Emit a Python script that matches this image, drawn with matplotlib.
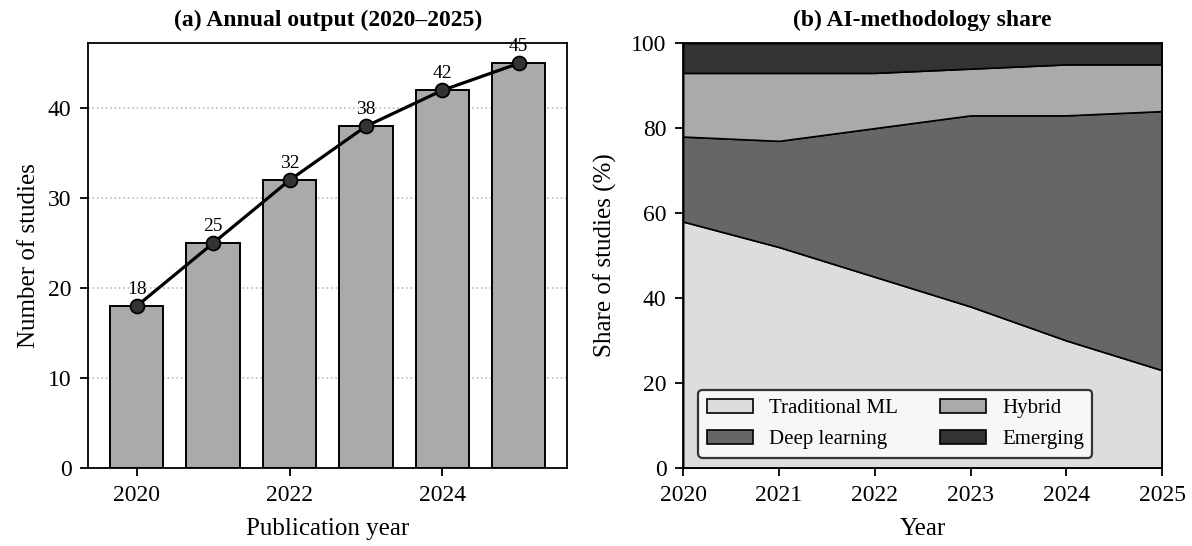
import matplotlib
matplotlib.use('Agg')
import matplotlib.pyplot as plt
import numpy as np

plt.rcParams['font.family'] = ['Liberation Serif', 'DejaVu Serif']

years = [2020, 2021, 2022, 2023, 2024, 2025]
studies = [18, 25, 32, 38, 42, 45]

labels = ['Traditional ML', 'Deep learning', 'Hybrid', 'Emerging']
trad_ml = [58, 52, 45, 38, 30, 23]
deep_learning = [20, 25, 35, 45, 53, 61]
hybrid = [15, 16, 13, 11, 12, 11]
emerging = [7, 7, 7, 6, 5, 5]

fig, (ax1, ax2) = plt.subplots(1, 2, figsize=(11.92, 5.46), dpi=100)
fig.subplots_adjust(left=0.074, right=0.975, top=0.921, bottom=0.143, wspace=0.242)

# (a) bars + line
ax1.bar(years, studies, width=0.7, color='#aaaaaa', edgecolor='black', linewidth=1.4, zorder=2)
ax1.plot(years, studies, color='black', linewidth=2.3, marker='o', markersize=10,
         markerfacecolor='#333333', markeredgecolor='black', markeredgewidth=1.3, zorder=3)
for x, y in zip(years, studies):
    ax1.annotate(str(y), (x, y), xytext=(0, 6), textcoords='offset points',
                 ha='center', va='bottom', fontsize=14)
ax1.set_ylim(0, 47.25)
ax1.set_xticks(years[::2])
ax1.yaxis.grid(True, linestyle=':', color='#bbbbbb', linewidth=1.2)
ax1.set_axisbelow(True)
ax1.set_title('(a) Annual output (2020–2025)', fontsize=17, fontweight='bold', pad=12)
ax1.set_xlabel('Publication year', fontsize=18, labelpad=9)
ax1.set_ylabel('Number of studies', fontsize=18, labelpad=6)
ax1.tick_params(labelsize=17, length=6, width=1.3, pad=6)

# (b) stacked area
colors = ['#dddddd', '#666666', '#aaaaaa', '#333333']
ax2.stackplot(years, trad_ml, deep_learning, hybrid, emerging, labels=labels,
              colors=colors, edgecolor='black', linewidth=1.2)
ax2.set_xlim(2020, 2025)
ax2.set_ylim(0, 100)
ax2.set_xticks(years)
ax2.set_title('(b) AI-methodology share', fontsize=17, fontweight='bold', pad=12)
ax2.set_xlabel('Year', fontsize=18, labelpad=9)
ax2.set_ylabel('Share of studies (%)', fontsize=18, labelpad=10)
ax2.tick_params(labelsize=17, length=6, width=1.3, pad=6)
leg = ax2.legend(loc='lower left', ncol=2, fontsize=15, frameon=True, fancybox=True,
                 edgecolor='#333333', facecolor='#f7f7f7', framealpha=1,
                 bbox_to_anchor=(0.01, 0.0), columnspacing=2.0,
                 handlelength=2.2, labelspacing=0.55)
leg.get_frame().set_linewidth(1.6)

for ax in (ax1, ax2):
    for s in ax.spines.values():
        s.set_linewidth(1.3)

fig.savefig('out.png', dpi=100)
